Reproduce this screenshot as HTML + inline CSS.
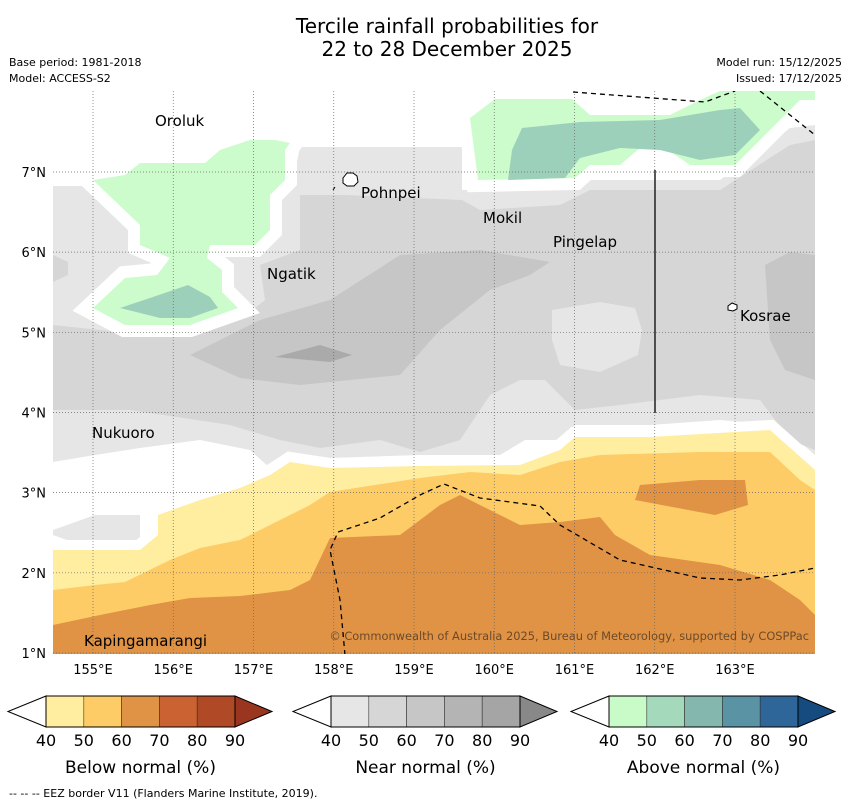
<!DOCTYPE html>
<html><head><meta charset="utf-8"><style>
body{margin:0;background:#fff;}
svg{display:block;font-family:"DejaVu Sans","Liberation Sans",sans-serif;}
</style></head><body>
<svg id="chart" width="850" height="804" viewBox="0 0 850 804" xmlns="http://www.w3.org/2000/svg">
<text x="447" y="33" font-size="20" text-anchor="middle" fill="#000">Tercile rainfall probabilities for</text>
<text x="447" y="56" font-size="20" text-anchor="middle" fill="#000">22 to 28 December 2025</text>
<text x="9" y="66" font-size="11">Base period: 1981-2018</text>
<text x="9" y="82" font-size="11">Model: ACCESS-S2</text>
<text x="842" y="66" font-size="11" text-anchor="end">Model run: 15/12/2025</text>
<text x="842" y="82" font-size="11" text-anchor="end">Issued: 17/12/2025</text>

<defs><clipPath id="mapclip"><rect x="53" y="91" width="762" height="563"/></clipPath></defs>
<g id="map" clip-path="url(#mapclip)">
<rect x="53" y="91" width="762" height="563" fill="#fff"/>
<polygon fill="#e6e6e6" points="53,186 292,186 300,147 462,147 462,190 580,190 590,180 720,180 790,128 815,125 815,455 780,425 720,420 650,425 575,425 560,440 525,440 500,455 420,455 330,458 300,470 270,468 250,450 200,440 140,448 95,455 53,462"/>
<polygon fill="#e6e6e6" points="53,530 95,515 140,515 140,538 125,550 95,550 53,535"/>
<polygon fill="#d6d6d6" points="53,325 100,330 150,335 240,320 265,300 260,265 300,250 300,195 345,195 462,200 480,210 560,205 590,190 720,190 790,145 815,140 815,450 790,440 760,400 700,395 620,405 575,410 545,380 520,380 490,395 460,440 420,452 380,440 320,448 280,440 230,425 130,410 53,410"/>
<polygon fill="#d6d6d6" points="53,255 68,262 68,275 53,282"/>
<polygon fill="#e6e6e6" points="552,310 600,302 635,308 642,330 638,355 600,372 560,365 552,340"/>
<polygon fill="#c6c6c6" points="190,355 260,320 330,300 400,255 480,250 550,262 530,275 490,290 440,330 400,375 300,385 240,378"/>
<polygon fill="#c6c6c6" points="765,265 790,252 815,255 815,380 785,370 770,340"/>
<polygon fill="#aaaaaa" points="275,357 320,345 352,355 330,362"/>

<g>
<polygon fill="#fff" stroke="#fff" stroke-width="24" stroke-linejoin="miter" points="93,180 125,175 140,163 205,163 220,150 250,140 275,140 290,143 285,150 285,180 270,195 270,230 255,245 210,245 207,258 222,270 222,292 238,308 190,325 125,325 93,308 125,278 157,275 170,258 140,245 140,225"/>
<polygon fill="#ccfccb" points="93,180 125,175 140,163 205,163 220,150 250,140 275,140 290,143 285,150 285,180 270,195 270,230 255,245 210,245 207,258 222,270 222,292 238,308 190,325 125,325 93,308 125,278 157,275 170,258 140,245 140,225"/>
<polygon fill="#9dd0bb" points="120,308 150,298 188,285 210,297 218,308 190,318 160,318"/>
</g>
<g>
<polygon fill="#fff" stroke="#fff" stroke-width="24" points="470,118 495,99 572,99 590,115 670,115 700,100 720,91 815,91 815,100 800,100 735,165 690,165 665,148 640,148 620,165 590,165 575,178 478,180"/>
<polygon fill="#ccfccb" points="470,118 495,99 572,99 590,115 670,115 700,100 720,91 815,91 815,100 800,100 735,165 690,165 665,148 640,148 620,165 590,165 575,178 478,180"/>
<polygon fill="#9dd0bb" points="522,128 580,122 660,120 720,110 740,108 760,130 735,155 700,160 660,150 620,148 580,158 565,178 508,180 512,150"/>
</g>

<g>
<polygon fill="#fff" stroke="#fff" stroke-width="20" points="53,550 95,550 140,550 158,535 158,515 200,500 240,488 270,475 290,462 330,468 420,466 520,465 560,450 575,437 650,437 770,430 815,470 815,654 53,654"/>
<polygon fill="#ffeda0" points="53,550 95,550 140,550 158,535 158,515 200,500 240,488 270,475 290,462 330,468 420,466 520,465 560,450 575,437 650,437 770,430 815,470 815,654 53,654"/>
<polygon fill="#fecc66" points="53,590 95,585 125,582 170,560 200,548 240,540 280,520 310,505 330,492 420,478 470,472 520,475 560,462 600,455 700,452 770,452 800,480 815,490 815,654 53,654"/>
<polygon fill="#e09345" points="53,625 100,615 150,605 190,598 240,596 290,590 310,580 330,538 400,535 420,520 440,505 460,495 480,505 520,525 560,522 600,517 615,535 650,555 720,565 770,580 800,600 815,615 815,654 53,654"/>
<polygon fill="#e09345" points="640,485 700,480 745,480 748,505 715,515 635,500"/>
</g>

<g id="grid" stroke="#666" stroke-width="0.7" stroke-dasharray="1,2"></g>

<g fill="none" stroke="#000" stroke-width="1.3" stroke-dasharray="5,4">
<polyline points="573,92 705,102 735,91"/>
<polyline points="760,91 815,135"/>
<polyline points="345,655 340,600 330,550 338,532 380,518 420,495 444,484 480,498 540,506 560,525 620,560 700,578 740,580 780,575 815,568"/>
</g>
<line x1="655" y1="170" x2="655" y2="413" stroke="#222" stroke-width="1.5"/>

<g fill="#fff" stroke="#000" stroke-width="1">
<path d="M343,178 l4,-5 6,0 4,3 1,6 -4,4 -7,0 -4,-3z"/>
<path d="M728,306 l4,-3 5,2 0,4 -4,2 -5,-1z"/>
<line x1="333" y1="190" x2="335" y2="187"/>
</g>
<g font-size="15" fill="#000">
<text x="155" y="126">Oroluk</text>
<text x="361" y="198">Pohnpei</text>
<text x="483" y="223">Mokil</text>
<text x="553" y="247">Pingelap</text>
<text x="267" y="279">Ngatik</text>
<text x="740" y="321">Kosrae</text>
<text x="92" y="438">Nukuoro</text>
<text x="84" y="646">Kapingamarangi</text>
</g>
<text x="809" y="640" font-size="11.4" fill="#6b4a2a" text-anchor="end">© Commonwealth of Australia 2025, Bureau of Meteorology, supported by COSPPac</text>
</g>
<g id="axes" font-size="13" fill="#000"></g>

<g id="cbars"></g>
<text x="9" y="797" font-size="11">--  --  -- EEZ border V11 (Flanders Marine Institute, 2019).</text>
</svg>
<script>
const lonTicks=[155,156,157,158,159,160,161,162,163];
const latTicks=[1,2,3,4,5,6,7];
const cbLabels=["40","50","60","70","80","90"];
const belowColors=["#ffeda0","#fecc66","#e09345","#cb6231","#b04a26"];
const nearColors=["#e6e6e6","#d6d6d6","#c6c6c6","#b4b4b4","#a5a5a5"];
const aboveColors=["#c9fbc9","#a5d9bc","#84b8ae","#5a93a3","#2f6699"];
const cbTitles=["Below normal (%)","Near normal (%)","Above normal (%)"];
const NS="http://www.w3.org/2000/svg";
function xs(lon){return 93+(lon-155)*80.25;}
function ys(lat){return 653-(lat-1)*80.17;}
const grid=document.getElementById('grid'),axes=document.getElementById('axes');
function mk(t,a,p){const e=document.createElementNS(NS,t);for(const k in a)e.setAttribute(k,a[k]);p.appendChild(e);return e;}
lonTicks.forEach(l=>{
 const g=mk('line',{x1:xs(l),x2:xs(l),y1:91,y2:654},grid);
 
 
 const t=mk('text',{x:xs(l),y:674,'text-anchor':'middle'},axes);t.textContent=l+'°E';
 
 
});
latTicks.forEach(l=>{
 const g=mk('line',{x1:53,x2:815,y1:ys(l),y2:ys(l)},grid);
 
 
 const t=mk('text',{x:46,y:ys(l)+5,'text-anchor':'end'},axes);t.textContent=l+'°N';
 
 
});
const cb=document.getElementById('cbars');
const bars=[{x0:46,cols:belowColors,tip:"#9a3520"},{x0:331,cols:nearColors,tip:"#888888"},{x0:609,cols:aboveColors,tip:"#164b80"}];
const w=37.8,y0=696,h=31;
bars.forEach((b,i)=>{
 const g=mk('g',{},cb);
 
 
 const end=b.x0+5*w;
 mk('polygon',{points:`${b.x0},${y0} ${b.x0-38},${y0+h/2} ${b.x0},${y0+h}`,fill:'#fff',stroke:'#000','stroke-width':1},g);
 b.cols.forEach((c,j)=>{const r=mk('rect',{x:b.x0+j*w,y:y0,width:w,height:h,fill:c,stroke:'#333','stroke-width':0.6},g);
  
  });
 mk('polygon',{points:`${end},${y0} ${end+37},${y0+h/2} ${end},${y0+h}`,fill:b.tip,stroke:'#000','stroke-width':1},g);
 mk('rect',{x:b.x0,y:y0,width:5*w,height:h,fill:'none',stroke:'#000','stroke-width':1},g);
 cbLabels.forEach((l,j)=>{const t=mk('text',{x:b.x0+j*w,y:746,'text-anchor':'middle','font-size':16},g);t.textContent=l;
  
  });
 const t=mk('text',{x:b.x0+2.5*w,y:773,'text-anchor':'middle','font-size':17},g);t.textContent=cbTitles[i];
 
 
});
</script>
</body></html>
